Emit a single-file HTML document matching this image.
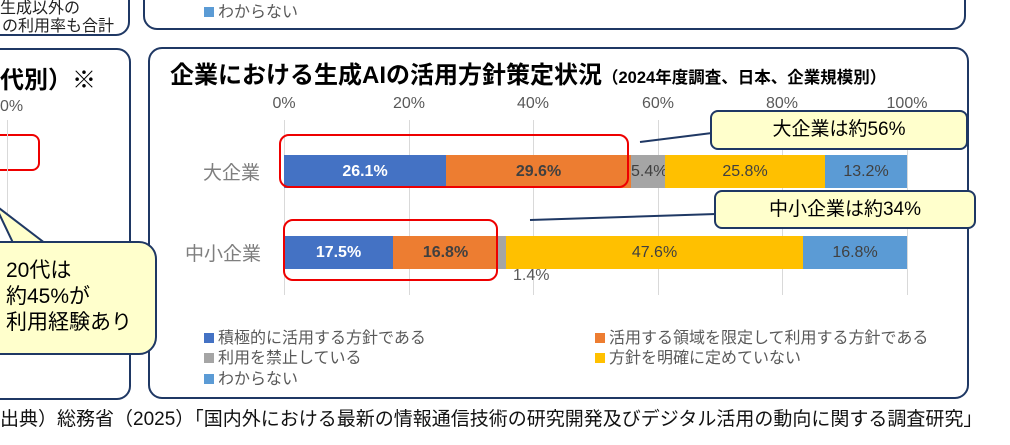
<!DOCTYPE html>
<html><head><meta charset="utf-8"><style>
body{margin:0;width:1010px;height:445px;overflow:hidden;background:#fff;font-family:"Liberation Sans","Noto Sans CJK JP",sans-serif;position:relative}
.a{position:absolute}
.box{position:absolute;border:2px solid #1f3864;border-radius:14px;box-sizing:border-box}
.t{position:absolute;white-space:nowrap}
.seg{position:absolute;height:33px;line-height:33px;text-align:center;font-size:16px;color:#404040;overflow:visible;white-space:nowrap}
.grid{position:absolute;top:120px;height:175px;width:1px;background:#d9d9d9}
.tick{position:absolute;top:95px;font-size:16px;color:#595959;width:60px;text-align:center}
.lg{position:absolute;font-size:16px;color:#595959;white-space:nowrap}
.lg i{display:inline-block;width:10px;height:10px;margin-right:4px;vertical-align:0}
.call{position:absolute;background:#ffffcc;border:2px solid #1f3864;border-radius:8px;box-sizing:border-box;text-align:center;font-size:19px;color:#000}
</style></head><body>
<div class="box" style="left:-20px;top:-20px;width:150px;height:56px"></div>
<div class="t" style="left:0;top:-6px;font-size:16px;color:#222">生成以外の</div>
<div class="t" style="left:2px;top:12px;font-size:16px;color:#222">の利用率も合計</div>
<div class="box" style="left:143px;top:-20px;width:823px;height:50px"></div>
<div class="lg" style="left:204px;top:-2px"><i style="background:#5b9bd5"></i>わからない</div>

<div class="box" style="left:-20px;top:48px;width:151px;height:352px"></div>
<div class="t" style="left:0;top:60px;font-size:24px;font-weight:bold">代別）※</div>
<div class="t" style="left:0;top:98px;font-size:16px;color:#595959">0%</div>
<div class="a" style="left:-20px;top:134px;width:60px;height:37px;border:2px solid #e00;border-radius:8px;box-sizing:border-box"></div>
<div class="a" style="left:7px;top:120px;width:1px;height:100px;background:#d9d9d9"></div>

<div class="box" style="left:148px;top:47px;width:821px;height:352px"></div>
<div class="t" style="left:170px;top:55px;font-size:24px;font-weight:bold">企業における生成AIの活用方針策定状況<span style="font-size:16.5px">（2024年度調査、日本、企業規模別）</span></div>

<div class="grid" style="left:284px"></div><div class="grid" style="left:409px"></div><div class="grid" style="left:533px"></div><div class="grid" style="left:658px"></div><div class="grid" style="left:782px"></div><div class="grid" style="left:907px"></div>
<div class="tick" style="left:254px">0%</div><div class="tick" style="left:379px">20%</div><div class="tick" style="left:503px">40%</div><div class="tick" style="left:628px">60%</div><div class="tick" style="left:752px">80%</div><div class="tick" style="left:877px">100%</div>

<div class="t" style="left:203px;top:158px;font-size:19px;color:#7f7f7f">大企業</div>
<div class="t" style="left:185px;top:239px;font-size:19px;color:#7f7f7f">中小企業</div>

<div class="seg" style="top:155px;left:284px;width:162px;background:#4472c4;color:#fff;font-weight:bold">26.1%</div>
<div class="seg" style="top:155px;left:446px;width:185px;background:#ed7d31;font-weight:bold">29.6%</div>
<div class="seg" style="top:155px;left:631px;width:34px;background:#a5a5a5">5.4%</div>
<div class="seg" style="top:155px;left:665px;width:160px;background:#ffc000">25.8%</div>
<div class="seg" style="top:155px;left:825px;width:82px;background:#5b9bd5">13.2%</div>

<div class="seg" style="top:236px;left:284px;width:109px;background:#4472c4;color:#fff;font-weight:bold">17.5%</div>
<div class="seg" style="top:236px;left:393px;width:105px;background:#ed7d31;font-weight:bold">16.8%</div>
<div class="seg" style="top:236px;left:498px;width:8px;background:#a5a5a5"></div>
<div class="seg" style="top:236px;left:506px;width:297px;background:#ffc000">47.6%</div>
<div class="seg" style="top:236px;left:803px;width:104px;background:#5b9bd5">16.8%</div>
<div class="t" style="left:513px;top:267px;font-size:16px;color:#595959">1.4%</div>

<div class="a" style="left:279px;top:134px;width:350px;height:54px;border:2px solid #e00;border-radius:10px;box-sizing:border-box"></div>
<div class="a" style="left:283px;top:219px;width:215px;height:62px;border:2px solid #e00;border-radius:10px;box-sizing:border-box"></div>

<svg class="a" style="left:0;top:0" width="1010" height="445">
<line x1="640" y1="142" x2="712" y2="133" stroke="#1f3864" stroke-width="2"/>
<line x1="530" y1="220" x2="716" y2="214" stroke="#1f3864" stroke-width="2"/>
<polygon points="-5,205 15,247 50,247" fill="#ffffcc" stroke="#1f3864" stroke-width="2"/>
</svg>
<div class="call" style="left:710px;top:110px;width:258px;height:40px;line-height:36px">大企業は約56%</div>
<div class="call" style="left:714px;top:190px;width:262px;height:39px;line-height:35px">中小企業は約34%</div>
<div class="call" style="left:-20px;top:241px;width:177px;height:114px;border-radius:18px;text-align:left;padding:15px 0 0 24px;font-size:21px;line-height:26px">20代は<br>約45%が<br>利用経験あり</div>
<div class="a" style="left:12px;top:243px;width:36px;height:4px;background:#ffffcc"></div>

<div class="lg" style="left:204px;top:324px"><i style="background:#4472c4"></i>積極的に活用する方針である</div>
<div class="lg" style="left:595px;top:324px"><i style="background:#ed7d31"></i>活用する領域を限定して利用する方針である</div>
<div class="lg" style="left:204px;top:344px"><i style="background:#a5a5a5"></i>利用を禁止している</div>
<div class="lg" style="left:595px;top:344px"><i style="background:#ffc000"></i>方針を明確に定めていない</div>
<div class="lg" style="left:204px;top:365px"><i style="background:#5b9bd5"></i>わからない</div>

<div class="t" style="left:0;top:404px;font-size:19px;color:#111">出典）総務省（2025）「国内外における最新の情報通信技術の研究開発及びデジタル活用の動向に関する調査研究」</div>
</body></html>
